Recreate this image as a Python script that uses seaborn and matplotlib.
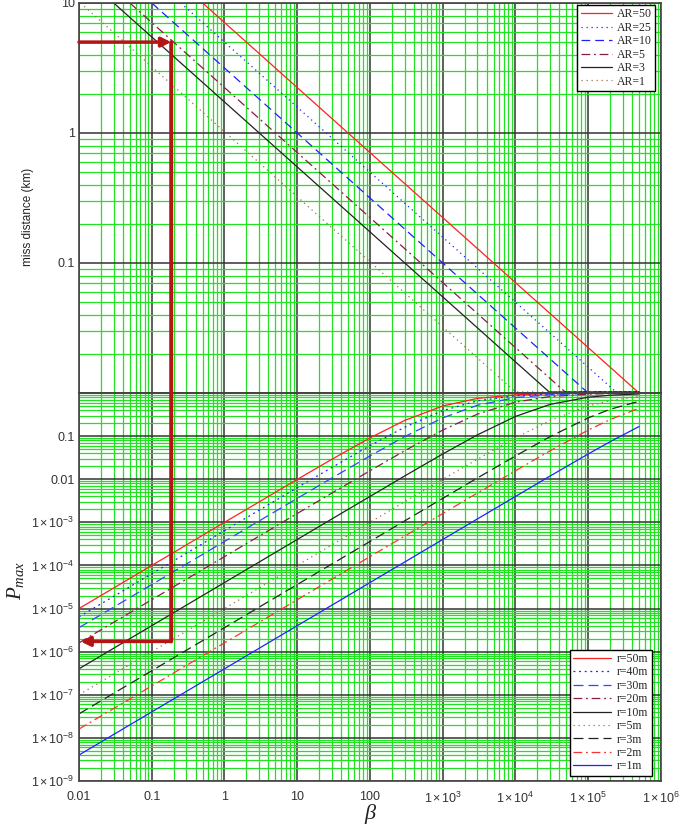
import numpy as np
import pandas as pd
import matplotlib
matplotlib.use('Agg')
import matplotlib.pyplot as plt
from matplotlib.ticker import FixedLocator, LogLocator, FuncFormatter, NullFormatter
from matplotlib.patches import ConnectionPatch
import seaborn as sns

# top panel: miss distance (km) vs beta, one line per AR
ar_labels = ['AR=50', 'AR=25', 'AR=10', 'AR=5', 'AR=3', 'AR=1']
miss_beta = [
    [0.5, 4.8e5, 5.0e5],
    [0.25, 2.4e5, 5.0e5],
    [0.1, 9.6e4, 5.0e5],
    [0.05, 4.8e4, 5.0e5],
    [0.03, 2.9e4, 5.0e5],
    [0.0105, 1.0e4, 5.0e5],
]
miss_km = [10.0, 0.0102, 0.0102]

# bottom panel: Pmax vs beta, one line per radius
r_labels = ['r=50m', 'r=40m', 'r=30m', 'r=20m', 'r=10m', 'r=5m', 'r=3m', 'r=2m', 'r=1m']
pmax_beta = [0.01, 1, 10, 30, 100, 300, 1e3, 3e3, 1e4, 3e4, 1e5, 2e5, 5e5]
pmax_r50 = [1e-5, 1e-3, 9.9e-3, 0.0291, 0.0909, 0.231, 0.5, 0.75, 0.909, 0.968, 0.990, 0.995, 0.998]
pmax_r40 = [6.4e-6, 6.4e-4, 6.36e-3, 0.0188, 0.0601, 0.161, 0.390, 0.658, 0.865, 0.950, 0.985, 0.992, 0.997]
pmax_r30 = [3.6e-6, 3.6e-4, 3.59e-3, 0.0107, 0.0347, 0.0975, 0.265, 0.519, 0.783, 0.915, 0.973, 0.986, 0.994]
pmax_r20 = [1.6e-6, 1.6e-4, 1.6e-3, 4.78e-3, 0.0157, 0.0458, 0.138, 0.324, 0.615, 0.828, 0.941, 0.970, 0.988]
pmax_r10 = [4e-7, 4e-5, 4e-4, 1.2e-3, 3.98e-3, 0.0119, 0.0385, 0.107, 0.286, 0.545, 0.80, 0.889, 0.952]
pmax_r5 = [1e-7, 1e-5, 1e-4, 3e-4, 1e-3, 3e-3, 9.9e-3, 0.0291, 0.0909, 0.231, 0.5, 0.667, 0.833]
pmax_r3 = [3.6e-8, 3.6e-6, 3.6e-5, 1.08e-4, 3.6e-4, 1.08e-3, 3.59e-3, 0.0107, 0.0347, 0.0975, 0.265, 0.419, 0.643]
pmax_r2 = [1.6e-8, 1.6e-6, 1.6e-5, 4.8e-5, 1.6e-4, 4.8e-4, 1.6e-3, 4.78e-3, 0.0157, 0.0458, 0.138, 0.242, 0.444]
pmax_r1 = [4e-9, 4e-7, 4e-6, 1.2e-5, 4e-5, 1.2e-4, 4e-4, 1.2e-3, 3.98e-3, 0.0119, 0.0385, 0.0741, 0.167]
pmax_all = [pmax_r50, pmax_r40, pmax_r30, pmax_r20, pmax_r10, pmax_r5, pmax_r3, pmax_r2, pmax_r1]

# the worked example drawn with the red arrows
arrow_beta = 0.185
arrow_miss = 5.0
arrow_pmax = 1.73e-6

sns.set_style('white')
plt.rcParams['font.family'] = ['Liberation Sans', 'DejaVu Sans']
plt.rcParams['mathtext.fontset'] = 'custom'
plt.rcParams['mathtext.rm'] = 'Liberation Sans'
plt.rcParams['mathtext.it'] = 'Liberation Serif:italic'

top_colors = ['#ff2020', '#2020ff', '#2020ff', '#8b1a4b', '#222222', '#a0704a']
top_styles = ['-', (0, (1, 3)), (0, (7, 4)), (0, (7, 3, 1.5, 3)), '-', (0, (1, 3))]
bot_colors = ['#ff2020', '#2020ff', '#3344ff', '#8b1a4b', '#222222', '#a0704a',
              '#222222', '#ff3030', '#2020ff']
bot_styles = ['-', (0, (1.5, 3)), (0, (8, 4)), (0, (7, 3, 1.5, 3)), '-', (0, (1, 3)),
              (0, (8, 4)), (0, (7, 3, 1.5, 3)), '-']

fig = plt.figure(figsize=(6.85, 8.26), dpi=100)
ax1 = fig.add_axes([0.1153, 0.5242, 0.8496, 0.4722])
ax2 = fig.add_axes([0.1153, 0.0545, 0.8496, 0.4697])

for lab, xs, c, ls in zip(ar_labels, miss_beta, top_colors, top_styles):
    df = pd.DataFrame({'beta': xs, 'miss': miss_km})
    sns.lineplot(data=df, x='beta', y='miss', ax=ax1, color=c, linestyle=ls,
                 lw=0.9, label=lab, sort=False, estimator=None)

for lab, ys, c, ls in zip(r_labels, pmax_all, bot_colors, bot_styles):
    df = pd.DataFrame({'beta': pmax_beta, 'pmax': ys})
    sns.lineplot(data=df, x='beta', y='pmax', ax=ax2, color=c, linestyle=ls,
                 lw=0.9, label=lab, sort=False, estimator=None)


def tick_text(v, pos):
    e = int(round(np.log10(v)))
    if e >= 3 or e <= -3:
        return r'$\mathregular{1\times10^{%d}}$' % e
    return {2: '100', 1: '10', 0: '1', -1: '0.1', -2: '0.01'}[e]


decades = [10.0 ** k for k in range(-9, 7)]
for ax, ylim, yt in [(ax1, (0.01, 10), [0.1, 1, 10]),
                     (ax2, (1e-9, 1), [10.0 ** k for k in range(-9, 0)])]:
    ax.set_xscale('log')
    ax.set_yscale('log')
    ax.set_xlim(0.01, 1e6)
    ax.set_ylim(*ylim)
    ax.xaxis.set_major_locator(FixedLocator([d for d in decades if 0.01 <= d <= 1e6]))
    ax.yaxis.set_major_locator(FixedLocator([d for d in decades if ylim[0] <= d <= ylim[1]]))
    ax.xaxis.set_minor_locator(LogLocator(base=10, subs=np.arange(2, 10) * 1.0, numticks=60))
    ax.yaxis.set_minor_locator(LogLocator(base=10, subs=np.arange(2, 10) * 1.0, numticks=60))
    ax.xaxis.set_minor_formatter(NullFormatter())
    ax.yaxis.set_minor_formatter(NullFormatter())
    ax.yaxis.set_major_formatter(FuncFormatter(
        lambda v, p, keep=yt: tick_text(v, p) if any(abs(v / k - 1) < 1e-6 for k in keep) else ''))
    ax.grid(which='minor', color='#22e022', lw=0.9)
    ax.grid(which='major', color='#333333', lw=1.1)
    ax.set_axisbelow(True)
    ax.tick_params(which='both', length=0, labelsize=9, labelcolor='#333333', pad=3)
    ax.set_xlabel('')
    ax.set_ylabel('')
    for s in ax.spines.values():
        s.set_color('#444444')
        s.set_linewidth(1.2)

ax1.xaxis.set_major_formatter(NullFormatter())
ax2.xaxis.set_major_formatter(FuncFormatter(tick_text))
ax2.tick_params(axis='x', pad=7)

leg1 = ax1.legend(loc='upper right', bbox_to_anchor=(0.9897, 0.995),
                  prop={'family': 'Liberation Serif', 'size': 8.5}, fancybox=False,
                  edgecolor='black', framealpha=1, handlelength=2.6, handletextpad=0.4,
                  labelspacing=0.12, borderpad=0.3, borderaxespad=0)
leg2 = ax2.legend(loc='lower right', bbox_to_anchor=(0.9845, 0.013),
                  prop={'family': 'Liberation Serif', 'size': 8.5}, fancybox=False,
                  edgecolor='black', framealpha=1, handlelength=3.2, handletextpad=0.5,
                  labelspacing=0.12, borderpad=0.3, borderaxespad=0)
for leg in (leg1, leg2):
    leg.get_frame().set_linewidth(1.0)

# red worked-example arrows
arrow_color = '#b41414'
ax1.annotate('', xy=(arrow_beta, arrow_miss), xytext=(0.01, arrow_miss),
             arrowprops=dict(arrowstyle='-|>', color=arrow_color, lw=2.5,
                             mutation_scale=14, shrinkA=0, shrinkB=0))
con = ConnectionPatch(xyA=(arrow_beta, arrow_miss), coordsA=ax1.transData,
                      xyB=(arrow_beta, arrow_pmax), coordsB=ax2.transData,
                      color=arrow_color, lw=2.8)
fig.add_artist(con)
ax2.annotate('', xy=(0.0105, arrow_pmax), xytext=(arrow_beta, arrow_pmax),
             arrowprops=dict(arrowstyle='-|>', color=arrow_color, lw=2.5,
                             mutation_scale=14, shrinkA=0, shrinkB=0))

fig.text(28 / 685, 1 - 217 / 826, 'miss distance (km)', rotation=90, ha='center', va='center',
         fontsize=8.5, color='#222222', family=['Liberation Sans Narrow', 'Liberation Sans'])
fig.text(15 / 685, 1 - 580 / 826, r'$P_{max}$', rotation=90, ha='center', va='center',
         fontsize=15, color='#222222')
fig.text(370 / 685, 1 - 814 / 826, '\u03b2', ha='center', va='center', fontsize=16,
         style='italic', family='Liberation Serif', color='#222222')

fig.savefig('out.png', dpi=100)
